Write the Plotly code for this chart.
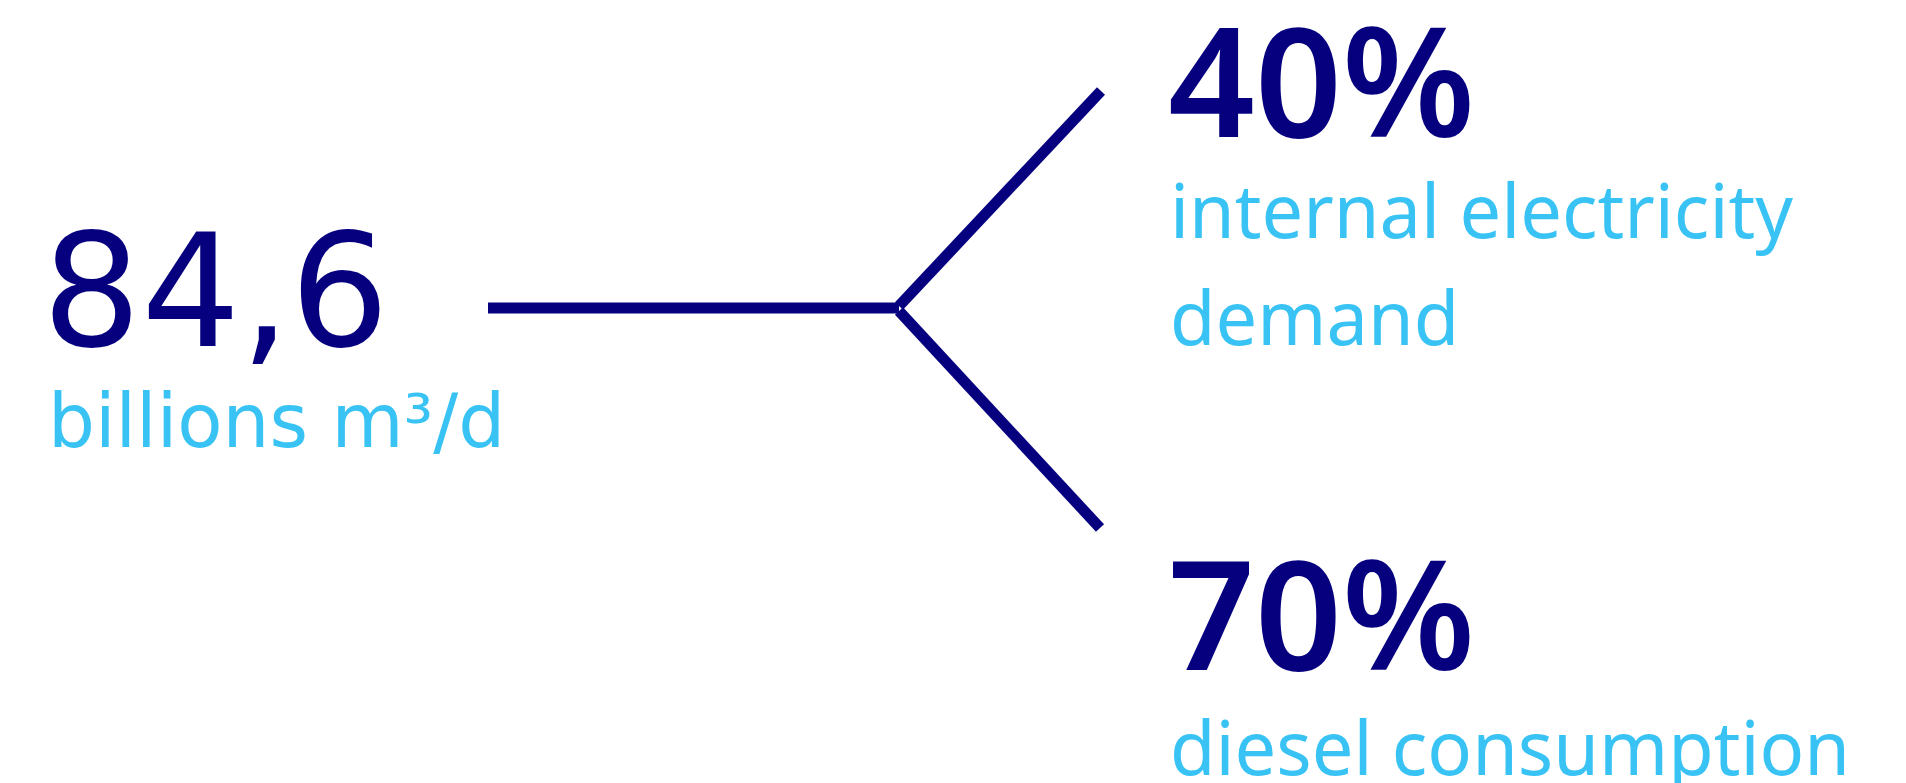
import plotly.graph_objects as go

# ---- data ----
total_value = "84,6"
total_unit = "billions m³/d"
share_values = [40, 70]
share_labels = [["internal electricity", "demand"], ["diesel consumption"]]

NAVY = "#06007f"
CYAN = "#38c3f4"
FONT_L = "DejaVu Sans"
FONT_R = "Noto Sans"

W, H = 1906, 783
fig = go.Figure()

# connector lines (horizontal stem + two branches)
vx, vy = 891, 300
stem_x = [480, vx]
stem_y = [vy, vy]
up_x = [vx, 1093]
up_y = [vy - 2, 83]
dn_x = [vx, 1092]
dn_y = [vy + 3, 520]
for xs, ys in [(stem_x, stem_y), (up_x, up_y), (dn_x, dn_y)]:
    fig.add_trace(go.Scatter(x=xs, y=ys, mode="lines",
                             line=dict(color=NAVY, width=11),
                             hoverinfo="skip", showlegend=False))

def txt(x, y, s, size, color, family, weight=400):
    fig.add_annotation(x=x, y=y, xref="x", yref="y", text=s, showarrow=False,
                       xanchor="left", yanchor="middle",
                       font=dict(family=family, size=size, color=color, weight=weight))

# left block
txt(32, 284, total_value, 156, NAVY, FONT_L, 500)
txt(38, 413, total_unit, 74, CYAN, FONT_L)

# right blocks
share_y = [70, 603]
label_y = [[201, 308], [738]]
for v, sy, labs, lys in zip(share_values, share_y, share_labels, label_y):
    txt(1158, sy, f"{v}%", 152, NAVY, FONT_R, 600)
    for lab, ly in zip(labs, lys):
        txt(1160, ly, lab, 74, CYAN, FONT_R)

fig.update_layout(
    width=W, height=H,
    margin=dict(l=0, r=0, t=0, b=0),
    paper_bgcolor="white", plot_bgcolor="white",
    xaxis=dict(range=[0, W], visible=False, fixedrange=True),
    yaxis=dict(range=[H, 0], visible=False, fixedrange=True),
)
fig.write_html("out.html")
